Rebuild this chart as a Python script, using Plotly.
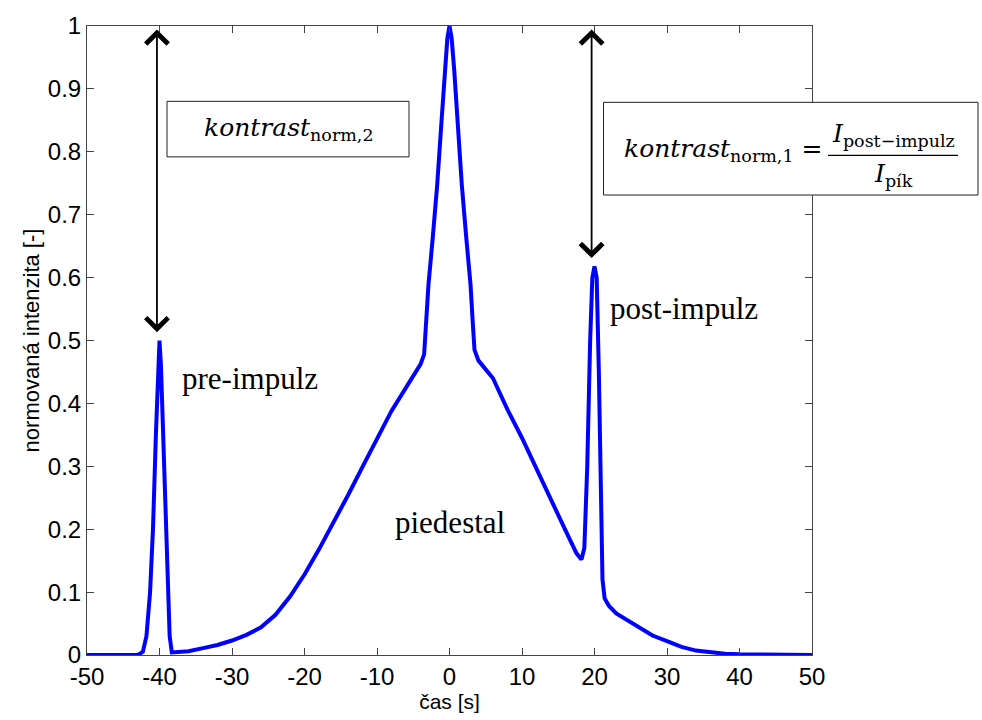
import plotly.graph_objects as go

# ---- data ----
time_s = [-50, -43, -42.3, -41.8, -41.3, -40.9, -40.5, -40.2, -40, -39.8, -39.5, -39.2, -38.9, -38.6, -38.3,
          -36, -34, -32, -30, -28, -26, -24, -22, -20, -18, -16, -14, -12, -10, -8, -6, -5, -4, -3.5,
          -3.2, -2.9, -2.3, -1.7, -1.08, -0.65, -0.3, 0, 0.3, 0.65, 1.08, 1.7, 2.3, 2.9, 3.2, 3.45,
          4, 5, 6, 7, 8, 10, 12, 14, 16, 17.5, 18.2, 18.6, 19, 19.4, 19.7, 20, 20.3, 20.6, 20.9, 21.1,
          21.4, 22, 23, 24.5, 26, 28, 30, 32, 34, 36, 38, 40, 45, 50]
intensity = [0, 0, 0.005, 0.03, 0.1, 0.2, 0.35, 0.46, 0.5, 0.46, 0.35, 0.2, 0.1, 0.03, 0.004,
             0.006, 0.011, 0.016, 0.023, 0.032, 0.044, 0.064, 0.093, 0.128, 0.168, 0.21, 0.254, 0.299, 0.345,
             0.388, 0.425, 0.443, 0.462, 0.478,
             0.53, 0.589, 0.665, 0.747, 0.852, 0.93, 0.98, 1.0, 0.98, 0.93, 0.852, 0.747, 0.665, 0.589, 0.53, 0.485,
             0.468, 0.455, 0.44, 0.415, 0.39, 0.345, 0.295, 0.245, 0.198, 0.162, 0.152, 0.17, 0.3, 0.5, 0.6, 0.618,
             0.6, 0.45, 0.25, 0.12,
             0.09, 0.078, 0.066, 0.055, 0.044, 0.031, 0.022, 0.013, 0.007, 0.004, 0.002, 0.001, 0, 0]

x_ticks = [-50, -40, -30, -20, -10, 0, 10, 20, 30, 40, 50]
y_ticks = [0, 0.1, 0.2, 0.3, 0.4, 0.5, 0.6, 0.7, 0.8, 0.9, 1]
y_tick_labels = ["0", "0.1", "0.2", "0.3", "0.4", "0.5", "0.6", "0.7", "0.8", "0.9", "1"]

x_title = "čas [s]"
y_title = "normovaná intenzita [-]"
label_pre = "pre-impulz"
label_post = "post-impulz"
label_ped = "piedestal"

pre_x, pre_y = -40, 0.5
post_x, post_y = 20, 0.618

# ---- layout helpers (pixel geometry of the plot area) ----
L, R, T, B = 87, 812, 21, 655.5
W, H = 982, 720


def px(xp):
    return (xp - L) / (R - L)


def py(yp):
    return (B - yp) / (B - T)


fig = go.Figure()
fig.add_trace(go.Scatter(x=time_s, y=intensity, mode="lines",
                         line=dict(color="#0000FF", width=4), hoverinfo="skip", showlegend=False))

axis_common = dict(showgrid=False, zeroline=False, showline=True, linecolor="#444444", linewidth=1,
                   mirror="ticks", ticks="inside", ticklen=7, tickcolor="#444444", tickwidth=1,
                   tickfont=dict(family="Liberation Sans, Arial", size=24, color="black"))

fig.update_xaxes(range=[-50, 50], tickvals=x_ticks, ticktext=[str(v) for v in x_ticks],
                 title=dict(text=x_title, font=dict(family="Liberation Sans, Arial", size=21, color="black"),
                            standoff=4),
                 **axis_common)
fig.update_yaxes(range=[0, 1], tickvals=y_ticks, ticktext=y_tick_labels,
                 title=dict(text=y_title, font=dict(family="Liberation Sans, Arial", size=22, color="black"),
                            standoff=2),
                 **axis_common)

serif = "Liberation Serif, Times New Roman"
math_font = "DejaVu Serif"
mfs = 25

annotations = []
# double-headed arrows
for ax_x, peak in [(pre_x - 0.35, pre_y), (post_x - 0.4, post_y)]:
    annotations.append(dict(x=ax_x, y=peak + 0.013, ax=ax_x, ay=0.997, xref="x", yref="y",
                            axref="x", ayref="y", text="", showarrow=True, arrowside="end+start",
                            arrowhead=4, startarrowhead=4, arrowsize=2.4, startarrowsize=2.4,
                            arrowwidth=1.8, arrowcolor="black"))

# region labels
annotations.append(dict(x=px(180), y=py(377), xref="paper", yref="paper", xanchor="left", yanchor="middle",
                        text=label_pre, showarrow=False, font=dict(family=serif, size=31, color="black")))
annotations.append(dict(x=px(608), y=py(306), xref="paper", yref="paper", xanchor="left", yanchor="middle",
                        text=label_post, showarrow=False, font=dict(family=serif, size=31, color="black")))
annotations.append(dict(x=px(450), y=py(522), xref="paper", yref="paper", xanchor="center", yanchor="middle",
                        text=label_ped, showarrow=False, font=dict(family=serif, size=31, color="black")))

# formula boxes
annotations.append(dict(x=px(289), y=py(125), xref="paper", yref="paper", xanchor="center", yanchor="middle",
                        text="<i>kontrast</i><sub>norm,2</sub>", showarrow=False,
                        font=dict(family=math_font, size=mfs, color="black")))
annotations.append(dict(x=px(824), y=py(146), xref="paper", yref="paper", xanchor="right", yanchor="middle",
                        text="<i>kontrast</i><sub>norm,1</sub> =", showarrow=False,
                        font=dict(family=math_font, size=mfs, color="black")))
annotations.append(dict(x=px(893), y=py(131), xref="paper", yref="paper", xanchor="center", yanchor="middle",
                        text="<i>I</i><sub>post−impulz</sub>", showarrow=False,
                        font=dict(family=math_font, size=mfs, color="black")))
annotations.append(dict(x=px(893), y=py(171), xref="paper", yref="paper", xanchor="center", yanchor="middle",
                        text="<i>I</i><sub>pík</sub>", showarrow=False,
                        font=dict(family=math_font, size=mfs, color="black")))

shapes = [
    dict(type="rect", xref="paper", yref="paper", x0=px(167), x1=px(409), y0=py(153), y1=py(97),
         line=dict(color="#222222", width=1), fillcolor="white", layer="below"),
    dict(type="rect", xref="paper", yref="paper", x0=px(603.5), x1=px(978), y0=py(191.5), y1=py(98),
         line=dict(color="#222222", width=1), fillcolor="white", layer="above"),
    dict(type="line", xref="paper", yref="paper", x0=px(828), x1=px(958), y0=py(151.5), y1=py(151.5),
         line=dict(color="black", width=1.3)),
]

fig.update_layout(width=W, height=H, margin=dict(l=L, r=W - R, t=T, b=H - B),
                  paper_bgcolor="white", plot_bgcolor="white",
                  annotations=annotations, shapes=shapes)

fig.write_html("out.html")
